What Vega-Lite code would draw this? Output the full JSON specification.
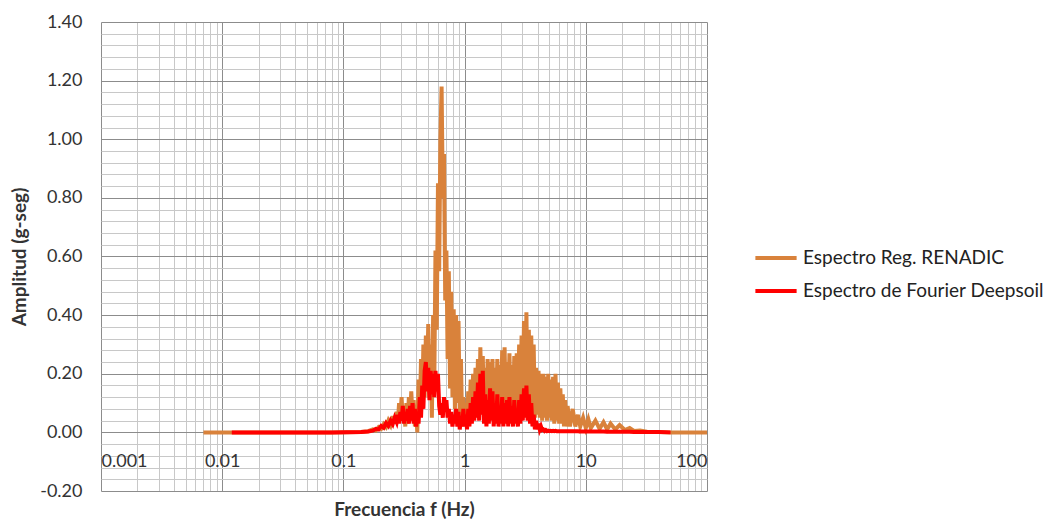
{
  "$schema": "https://vega.github.io/schema/vega-lite/v6.json",
  "width": 606,
  "height": 469,
  "autosize": {"type": "none"},
  "padding": {"left": 101, "top": 22, "right": 344, "bottom": 29},
  "config": {"view": {"stroke": null}, "font": "Lato"},
  "data": {"values": [
    {"f":0.007,"o":0},
    {"f":0.012,"o":0,"r":0},
    {"f":0.03,"o":0,"r":0},
    {"f":0.08,"o":0,"r":0},
    {"f":0.14,"o":0.001,"r":0.001},
    {"f":0.16,"o":0.004,"r":0.003},
    {"f":0.175,"o":0.01,"r":0.006},
    {"f":0.185,"o":0.006,"r":0.012},
    {"f":0.195,"o":0.018,"r":0.01},
    {"f":0.205,"o":0.012,"r":0.022},
    {"f":0.215,"o":0.028,"r":0.016},
    {"f":0.225,"o":0.018,"r":0.032},
    {"f":0.235,"o":0.04,"r":0.022},
    {"f":0.245,"o":0.025,"r":0.04},
    {"f":0.255,"o":0.055,"r":0.028},
    {"f":0.265,"o":0.03,"r":0.05},
    {"f":0.275,"o":0.07,"r":0.035},
    {"f":0.282,"o":0.04,"r":0.06},
    {"f":0.288,"o":0.10,"r":0.03},
    {"f":0.295,"o":0.05,"r":0.07},
    {"f":0.302,"o":0.12,"r":0.04},
    {"f":0.309,"o":0.04,"r":0.09},
    {"f":0.316,"o":0.09,"r":0.03},
    {"f":0.324,"o":0.02,"r":0.07},
    {"f":0.331,"o":0.10,"r":0.04},
    {"f":0.339,"o":0.03,"r":0.08},
    {"f":0.347,"o":0.12,"r":0.03},
    {"f":0.355,"o":0.04,"r":0.09},
    {"f":0.363,"o":0.14,"r":0.04},
    {"f":0.372,"o":0.05,"r":0.10},
    {"f":0.380,"o":0.11,"r":0.03},
    {"f":0.389,"o":0.02,"r":0.08},
    {"f":0.398,"o":0.08,"r":0.02},
    {"f":0.407,"o":0.00,"r":0.06},
    {"f":0.417,"o":0.18,"r":0.03},
    {"f":0.427,"o":0.06,"r":0.12},
    {"f":0.437,"o":0.25,"r":0.05},
    {"f":0.447,"o":0.10,"r":0.16},
    {"f":0.457,"o":0.30,"r":0.08},
    {"f":0.468,"o":0.12,"r":0.21},
    {"f":0.479,"o":0.33,"r":0.24},
    {"f":0.490,"o":0.15,"r":0.14},
    {"f":0.501,"o":0.37,"r":0.22},
    {"f":0.513,"o":0.12,"r":0.11},
    {"f":0.525,"o":0.30,"r":0.21},
    {"f":0.537,"o":0.05,"r":0.13},
    {"f":0.550,"o":0.40,"r":0.20},
    {"f":0.562,"o":0.15,"r":0.12},
    {"f":0.575,"o":0.62,"r":0.21},
    {"f":0.589,"o":0.35,"r":0.14},
    {"f":0.603,"o":0.85,"r":0.20},
    {"f":0.617,"o":0.55,"r":0.09},
    {"f":0.631,"o":1.00,"r":0.06},
    {"f":0.646,"o":1.18,"r":0.10},
    {"f":0.661,"o":0.80,"r":0.05},
    {"f":0.676,"o":0.95,"r":0.12},
    {"f":0.692,"o":0.45,"r":0.07},
    {"f":0.708,"o":0.62,"r":0.11},
    {"f":0.724,"o":0.25,"r":0.05},
    {"f":0.741,"o":0.55,"r":0.08},
    {"f":0.759,"o":0.15,"r":0.03},
    {"f":0.776,"o":0.48,"r":0.07},
    {"f":0.794,"o":0.12,"r":0.02},
    {"f":0.813,"o":0.42,"r":0.06},
    {"f":0.832,"o":0.08,"r":0.03},
    {"f":0.851,"o":0.40,"r":0.08},
    {"f":0.871,"o":0.10,"r":0.02},
    {"f":0.891,"o":0.38,"r":0.07},
    {"f":0.912,"o":0.06,"r":0.01},
    {"f":0.933,"o":0.25,"r":0.05},
    {"f":0.955,"o":0.02,"r":0.02},
    {"f":0.977,"o":0.12,"r":0.08},
    {"f":1.000,"o":0.03,"r":0.02},
    {"f":1.023,"o":0.10,"r":0.06},
    {"f":1.047,"o":0.02,"r":0.01},
    {"f":1.072,"o":0.14,"r":0.08},
    {"f":1.096,"o":0.04,"r":0.02},
    {"f":1.122,"o":0.18,"r":0.10},
    {"f":1.148,"o":0.06,"r":0.03},
    {"f":1.175,"o":0.20,"r":0.12},
    {"f":1.202,"o":0.05,"r":0.04},
    {"f":1.230,"o":0.22,"r":0.14},
    {"f":1.259,"o":0.08,"r":0.05},
    {"f":1.288,"o":0.25,"r":0.17},
    {"f":1.318,"o":0.06,"r":0.04},
    {"f":1.349,"o":0.29,"r":0.20},
    {"f":1.380,"o":0.10,"r":0.06},
    {"f":1.413,"o":0.26,"r":0.21},
    {"f":1.445,"o":0.05,"r":0.03},
    {"f":1.479,"o":0.22,"r":0.13},
    {"f":1.514,"o":0.08,"r":0.02},
    {"f":1.549,"o":0.25,"r":0.11},
    {"f":1.585,"o":0.04,"r":0.03},
    {"f":1.622,"o":0.24,"r":0.15},
    {"f":1.660,"o":0.09,"r":0.04},
    {"f":1.698,"o":0.25,"r":0.14},
    {"f":1.738,"o":0.05,"r":0.02},
    {"f":1.778,"o":0.22,"r":0.10},
    {"f":1.820,"o":0.08,"r":0.03},
    {"f":1.862,"o":0.25,"r":0.13},
    {"f":1.905,"o":0.04,"r":0.02},
    {"f":1.950,"o":0.23,"r":0.09},
    {"f":1.995,"o":0.07,"r":0.03},
    {"f":2.042,"o":0.28,"r":0.12},
    {"f":2.089,"o":0.06,"r":0.02},
    {"f":2.138,"o":0.29,"r":0.10},
    {"f":2.188,"o":0.05,"r":0.03},
    {"f":2.239,"o":0.24,"r":0.11},
    {"f":2.291,"o":0.09,"r":0.02},
    {"f":2.344,"o":0.27,"r":0.12},
    {"f":2.399,"o":0.05,"r":0.03},
    {"f":2.455,"o":0.23,"r":0.09},
    {"f":2.512,"o":0.07,"r":0.02},
    {"f":2.570,"o":0.26,"r":0.11},
    {"f":2.630,"o":0.06,"r":0.03},
    {"f":2.692,"o":0.27,"r":0.08},
    {"f":2.754,"o":0.08,"r":0.02},
    {"f":2.818,"o":0.30,"r":0.11},
    {"f":2.884,"o":0.06,"r":0.03},
    {"f":2.951,"o":0.33,"r":0.13},
    {"f":3.020,"o":0.10,"r":0.04},
    {"f":3.090,"o":0.38,"r":0.15},
    {"f":3.162,"o":0.12,"r":0.05},
    {"f":3.236,"o":0.41,"r":0.16},
    {"f":3.311,"o":0.08,"r":0.04},
    {"f":3.388,"o":0.35,"r":0.13},
    {"f":3.467,"o":0.10,"r":0.03},
    {"f":3.548,"o":0.33,"r":0.10},
    {"f":3.631,"o":0.06,"r":0.02},
    {"f":3.715,"o":0.30,"r":0.06},
    {"f":3.802,"o":0.05,"r":0.01},
    {"f":3.890,"o":0.22,"r":0.04},
    {"f":3.981,"o":0.06,"r":0.01},
    {"f":4.074,"o":0.21,"r":0.03},
    {"f":4.169,"o":0.05,"r":0.01},
    {"f":4.266,"o":0.20,"r":0.02},
    {"f":4.365,"o":0.04,"r":0.008},
    {"f":4.467,"o":0.20,"r":0.01},
    {"f":4.571,"o":0.05,"r":0.005},
    {"f":4.677,"o":0.19,"r":0.008},
    {"f":4.786,"o":0.04,"r":0.004},
    {"f":4.898,"o":0.20,"r":0.006},
    {"f":5.012,"o":0.05,"r":0.004},
    {"f":5.129,"o":0.18,"r":0.005},
    {"f":5.248,"o":0.04,"r":0.004},
    {"f":5.370,"o":0.19,"r":0.005},
    {"f":5.495,"o":0.03,"r":0.004},
    {"f":5.623,"o":0.20,"r":0.005},
    {"f":5.754,"o":0.04,"r":0.004},
    {"f":5.888,"o":0.17,"r":0.004},
    {"f":6.026,"o":0.03,"r":0.004},
    {"f":6.166,"o":0.15,"r":0.004},
    {"f":6.310,"o":0.03,"r":0.004},
    {"f":6.457,"o":0.13,"r":0.004},
    {"f":6.607,"o":0.02,"r":0.004},
    {"f":6.761,"o":0.11,"r":0.004},
    {"f":6.918,"o":0.02,"r":0.004},
    {"f":7.079,"o":0.09,"r":0.004},
    {"f":7.4,"o":0.02,"r":0.004},
    {"f":7.8,"o":0.08,"r":0.004},
    {"f":8.2,"o":0.02,"r":0.004},
    {"f":8.6,"o":0.06,"r":0.004},
    {"f":9.0,"o":0.02,"r":0.003},
    {"f":9.5,"o":0.05,"r":0.003},
    {"f":10,"o":0.015,"r":0.003},
    {"f":10.5,"o":0.045,"r":0.003},
    {"f":11,"o":0.015,"r":0.003},
    {"f":12,"o":0.04,"r":0.003},
    {"f":13,"o":0.012,"r":0.003},
    {"f":14,"o":0.035,"r":0.003},
    {"f":15,"o":0.01,"r":0.002},
    {"f":16,"o":0.03,"r":0.002},
    {"f":17.5,"o":0.01,"r":0.002},
    {"f":19,"o":0.025,"r":0.002},
    {"f":21,"o":0.008,"r":0.002},
    {"f":23,"o":0.015,"r":0.002},
    {"f":25,"o":0.005,"r":0.001},
    {"f":28,"o":0.006,"r":0.001},
    {"f":32,"o":0.002,"r":0.001},
    {"f":40,"o":0.001,"r":0.001},
    {"f":50,"o":0,"r":0},
    {"f":100,"o":0}
  ]},
  "transform": [
    {"fold": ["o", "r"], "as": ["s", "a"]},
    {"filter": "isValid(datum.a)"}
  ],
  "resolve": {"axis": {"x": "independent", "y": "independent"}},
  "layer": [
    {
      "mark": {"type": "line", "opacity": 0},
      "encoding": {
        "x": {"field": "f", "type": "quantitative",
          "scale": {"type": "log", "domain": [0.001, 100], "nice": false},
          "axis": {"orient": "bottom", "values": [0.002,0.003,0.004,0.005,0.006,0.007,0.008,0.009,0.02,0.03,0.04,0.05,0.06,0.07,0.08,0.09,0.2,0.3,0.4,0.5,0.6,0.7,0.8,0.9,2,3,4,5,6,7,8,9,20,30,40,50,60,70,80,90],
            "grid": true, "gridColor": "#c8c8c8", "gridWidth": 1, "labels": false, "ticks": false, "domain": false, "title": null}},
        "y": {"field": "a", "type": "quantitative",
          "scale": {"domain": [-0.2, 1.4], "nice": false, "zero": false},
          "axis": {"orient": "left", "values": [-0.16,-0.12,-0.08,-0.04,0.04,0.08,0.12,0.16,0.24,0.28,0.32,0.36,0.44,0.48,0.52,0.56,0.64,0.68,0.72,0.76,0.84,0.88,0.92,0.96,1.04,1.08,1.12,1.16,1.24,1.28,1.32,1.36],
            "grid": true, "gridColor": "#c8c8c8", "gridWidth": 1, "labels": false, "ticks": false, "domain": false, "title": null}}
      }
    },
    {
      "mark": {"type": "line", "opacity": 0},
      "encoding": {
        "x": {"field": "f", "type": "quantitative",
          "axis": {"orient": "bottom", "values": [0.001,0.01,0.1,1,10,100],
            "grid": true, "gridColor": "#8c8c8c", "gridWidth": 1, "labels": false, "ticks": false, "domain": false, "title": null}},
        "y": {"field": "a", "type": "quantitative",
          "axis": {"orient": "left", "values": [-0.2,0,0.2,0.4,0.6,0.8,1.0,1.2,1.4],
            "grid": true, "gridColor": "#8c8c8c", "gridWidth": 1, "ticks": false, "domain": false,
            "labelExpr": "replace(format(datum.value, '.2f'), '\u2212', '-')",
            "labelFont": "Lato", "labelFontSize": 18, "labelColor": "#333333", "labelPadding": 19,
            "title": "Amplitud (g-seg)", "titleFont": "Lato", "titleFontSize": 19, "titleFontWeight": "bold", "titleColor": "#333333", "titlePadding": 10}}
      }
    },
    {
      "mark": {"type": "line", "strokeWidth": 4},
      "encoding": {
        "x": {"field": "f", "type": "quantitative",
          "axis": {"orient": "bottom", "values": [0.001,0.01,0.1,1,10,100], "format": "~g", "offset": -58.6,
            "grid": false, "ticks": false, "domain": false,
            "labelFont": "Lato", "labelFontSize": 18, "labelColor": "#333333", "labelPadding": 20,
            "title": "Frecuencia f (Hz)", "titleFont": "Lato", "titleFontSize": 19, "titleFontWeight": "bold", "titleColor": "#333333", "titlePadding": 30}},
        "y": {"field": "a", "type": "quantitative", "axis": null},
        "color": {"field": "s", "type": "nominal",
          "scale": {"domain": ["o", "r"], "range": ["#D9823B", "#FF0000"]},
          "legend": {"title": null, "orient": "none", "legendX": 652, "legendY": 213,
            "symbolType": "stroke", "symbolSize": 1700, "symbolStrokeWidth": 4, "rowPadding": -3,
            "labelExpr": "datum.label == 'o' ? 'Espectro Reg. RENADIC' : 'Espectro de Fourier Deepsoil'",
            "labelFont": "Lato", "labelFontSize": 19, "labelColor": "#222222", "labelOffset": 4, "labelLimit": 400}}
      }
    }
  ]
}
